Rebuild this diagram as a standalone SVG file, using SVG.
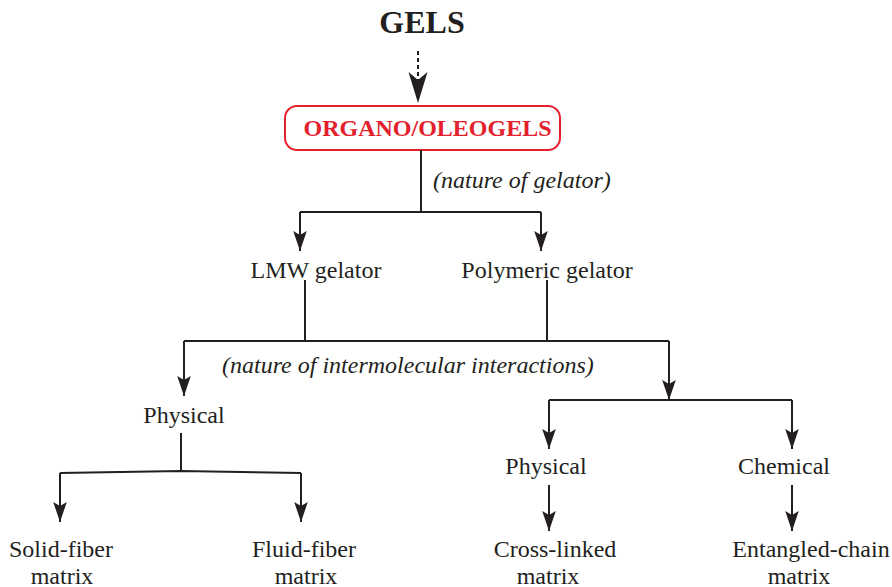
<svg xmlns="http://www.w3.org/2000/svg" width="892" height="587" viewBox="0 0 892 587">
  <style>
    .lbl { font-family: "Liberation Serif", "Times New Roman", serif; font-size: 24px; fill: #231f20; text-anchor: middle; }
    .note { font-family: "Liberation Serif", "Times New Roman", serif; font-size: 24px; font-style: italic; fill: #231f20; }
    .wire { fill: none; stroke: #231f20; stroke-width: 2; }
  </style>
  <defs>
    <marker id="head" markerUnits="userSpaceOnUse" markerWidth="24" markerHeight="16" viewBox="-22 -8 24 16" refX="0" refY="0" orient="auto">
      <path d="M0,0 L-20,-6.8 L-16,0 L-20,6.8 Z" fill="#231f20"/>
    </marker>
  </defs>

  <!-- top title -->
  <g id="gels">
    <text x="422" y="33" style="font-family:'Liberation Serif','Times New Roman',serif;font-size:32px;font-weight:bold;fill:#231f20" text-anchor="middle">GELS</text>
  </g>

  <g id="organogels">
    <rect x="285" y="106" width="275" height="44" rx="12" ry="12" fill="#fff" stroke="#e3202b" stroke-width="2"/>
    <text x="427.5" y="136" style="font-family:'Liberation Serif','Times New Roman',serif;font-size:24px;font-weight:bold;fill:#e3202b" text-anchor="middle">ORGANO/OLEOGELS</text>
  </g>

  <g id="lmw"><text class="lbl" x="316" y="278">LMW gelator</text></g>
  <g id="polymeric"><text class="lbl" x="547" y="278">Polymeric gelator</text></g>
  <g id="physical-left"><text class="lbl" x="184" y="423">Physical</text></g>
  <g id="physical-right"><text class="lbl" x="546" y="474">Physical</text></g>
  <g id="chemical"><text class="lbl" x="784" y="474">Chemical</text></g>
  <g id="solid-fiber"><text class="lbl" x="61" y="557">Solid-fiber<tspan x="62" y="584">matrix</tspan></text></g>
  <g id="fluid-fiber"><text class="lbl" x="304" y="557">Fluid-fiber<tspan x="306" y="584">matrix</tspan></text></g>
  <g id="cross-linked"><text class="lbl" x="555" y="557">Cross-linked<tspan x="548" y="584">matrix</tspan></text></g>
  <g id="entangled"><text class="lbl" x="811" y="557">Entangled-chain<tspan x="799" y="584">matrix</tspan></text></g>

  <g id="notes">
    <text class="note" x="433" y="188">(nature of gelator)</text>
    <text class="note" x="222" y="373">(nature of intermolecular interactions)</text>
  </g>

  <g id="connectors">
    <!-- dashed lead from GELS -->
    <line x1="418" y1="51" x2="418" y2="80" stroke="#231f20" stroke-width="2" stroke-dasharray="4 3"/>
    <path d="M418,103 L408.5,72 L418,80 L427.5,72 Z" fill="#231f20"/>

    <!-- nature of gelator split -->
    <path class="wire" d="M421,150 V212"/>
    <path class="wire" d="M300,212 H541"/>
    <path class="wire" d="M300,212 V251" marker-end="url(#head)"/>
    <path class="wire" d="M541,212 V251" marker-end="url(#head)"/>

    <!-- intermolecular interactions split -->
    <path class="wire" d="M305,280 V341"/>
    <path class="wire" d="M547,280 V341"/>
    <path class="wire" d="M184,341 H669"/>
    <path class="wire" d="M184,341 V396" marker-end="url(#head)"/>
    <path class="wire" d="M669,341 V400" marker-end="url(#head)"/>

    <!-- physical (LMW) branch -->
    <path class="wire" d="M181,433 V472"/>
    <path class="wire" d="M60,473 L181,471 L301,473"/>
    <path class="wire" d="M60,473 V522" marker-end="url(#head)"/>
    <path class="wire" d="M301,473 V522" marker-end="url(#head)"/>

    <!-- polymeric branch -->
    <path class="wire" d="M549,400 H792"/>
    <path class="wire" d="M549,400 V449" marker-end="url(#head)"/>
    <path class="wire" d="M792,400 V449" marker-end="url(#head)"/>
    <path class="wire" d="M549,485 V531" marker-end="url(#head)"/>
    <path class="wire" d="M792,485 V531" marker-end="url(#head)"/>
  </g>
</svg>
